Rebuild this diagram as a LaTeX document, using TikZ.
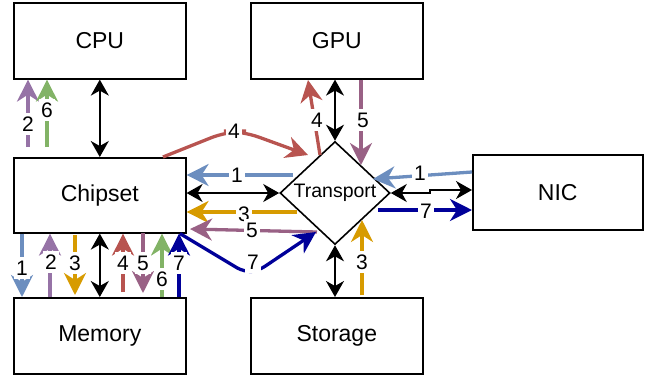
\documentclass[tikz,border=0pt]{standalone}
\usepackage{fontspec}
\setmainfont{Liberation Sans}
\usetikzlibrary{arrows.meta,shapes.geometric}

\definecolor{flowA}{HTML}{6C8EBF}
\definecolor{flowB}{HTML}{9673A6}
\definecolor{flowC}{HTML}{D79B00}
\definecolor{flowD}{HTML}{B85450}
\definecolor{flowE}{HTML}{996185}
\definecolor{flowF}{HTML}{82B366}
\definecolor{flowG}{HTML}{000099}

\begin{document}
\begin{tikzpicture}[x=1pt,y=-1pt,
  box/.style={draw,line width=1.6pt,anchor=north west,inner sep=0pt,
    minimum width=172pt,minimum height=76pt,font=\fontsize{23}{27}\selectfont},
  hub/.style={draw,shape=diamond,line width=1.6pt,inner sep=0pt,
    minimum width=110pt,minimum height=103pt,font=\fontsize{19.5}{22}\selectfont},
  link/.style={line width=1.8pt,
    {Stealth[length=16pt,width=18pt,inset=5pt]}-{Stealth[length=16pt,width=18pt,inset=5pt]}},
  flow/.style={line width=3.3pt,-{Stealth[length=22pt,width=22pt,inset=7pt]}},
  num/.style={fill=white,inner xsep=2.5pt,inner ysep=4pt,font=\fontsize{21}{24}\selectfont},
]
\useasboundingbox (0,0) rectangle (646,376);

% components
\node[box] (cpu)  at (13,2)   {CPU};
\node[box] (gpu)  at (250,2)  {GPU};
\node[box,minimum height=75pt] (chip) at (13,157) {Chipset};
\node[box] (mem)  at (13,297) {Memory};
\node[box] (sto)  at (250,297) {Storage};
\node[box,minimum width=170pt,minimum height=75pt] (nic) at (472,154) {NIC};
\node[hub] (tr) at (335,193) {Transport};

% physical links
\draw[link] (cpu.south) -- (chip.north);
\draw[link] (chip.south) -- (mem.north);
\draw[link] (gpu.south -| tr.north) -- (tr.north);
\draw[link] (tr.south) -- (sto.north -| tr.south);
\draw[link] (chip.east |- tr.west) -- (tr.west);
\draw[link] (tr.east) -- (430,193) -- (430,190) -- (nic.west |- 0,190);

% numbered data flows: chipset and CPU
\draw[flow,flowB] (28,147) -- (cpu.south -| 28,0);
\draw[flow,flowF] (47,147) -- (cpu.south -| 47,0);

% chipset and memory
\draw[flow,flowA] (chip.south -| 22,0) -- (mem.north -| 22,0);
\draw[flow,flowB] (mem.north -| 50,0) -- (chip.south -| 50,0);
\draw[flow,flowC] (75,235) -- (75,295);
\draw[flow,flowD] (123,292) -- (chip.south -| 123,0);
\draw[flow,flowE] (143,233) -- (143,293);
\draw[flow,flowF] (mem.north -| 162,0) -- (chip.south -| 162,0);
\draw[flow,flowG] (mem.north -| 179,0) -- (chip.south -| 179,0);

% chipset and transport
\draw[flow,flowD,rounded corners=18pt] (chip.north -| 163,0) -- (228,131) -- (242,131) -- (308,155);
\draw[flow,flowA] (293,175) -- (chip.east |- 0,175);
\draw[flow,flowC] (297,212) -- (chip.east |- 0,212);
\draw[flow,flowE] (317,232) -- (190,229);
\draw[flow,flowG,rounded corners=8pt] (chip.south -| 180,0) -- (244,272) -- (258,271) -- (316,232);

% GPU and transport
\draw[flow,flowD] (320,155) -- (308,80);
\draw[flow,flowE] (gpu.south -| 361,0) -- (361,165);

% NIC and transport
\draw[flow,flowA] (nic.west |- 0,172) -- (373,179);
\draw[flow,flowG] (378,210) -- (nic.west |- 0,210);

% storage and transport
\draw[flow,flowC] (362,295) -- (362,220);

% flow numbers
\node[num] (n1) at (28,124) {2};
\node[num] (n2) at (47,110) {6};
\node[num] (n3) at (22,268) {1};
\node[num] (n4) at (51,262) {2};
\node[num] (n5) at (75,263) {3};
\node[num] (n6) at (123,263) {4};
\node[num] (n7) at (143,263) {5};
\node[num] (n8) at (162,279) {6};
\node[num] (n9) at (179,263) {7};
\node[num] (n10) at (234,131) {4};
\node[num] (n11) at (237,175) {1};
\node[num] (n12) at (244,214) {3};
\node[num] (n13) at (252,230) {5};
\node[num] (n14) at (253,262) {7};
\node[num] (n15) at (317,120) {4};
\node[num] (n16) at (363,120) {5};
\node[num] (n17) at (420,173) {1};
\node[num] (n18) at (426,211) {7};
\node[num] (n19) at (362,262) {3};
\end{tikzpicture}
\end{document}
